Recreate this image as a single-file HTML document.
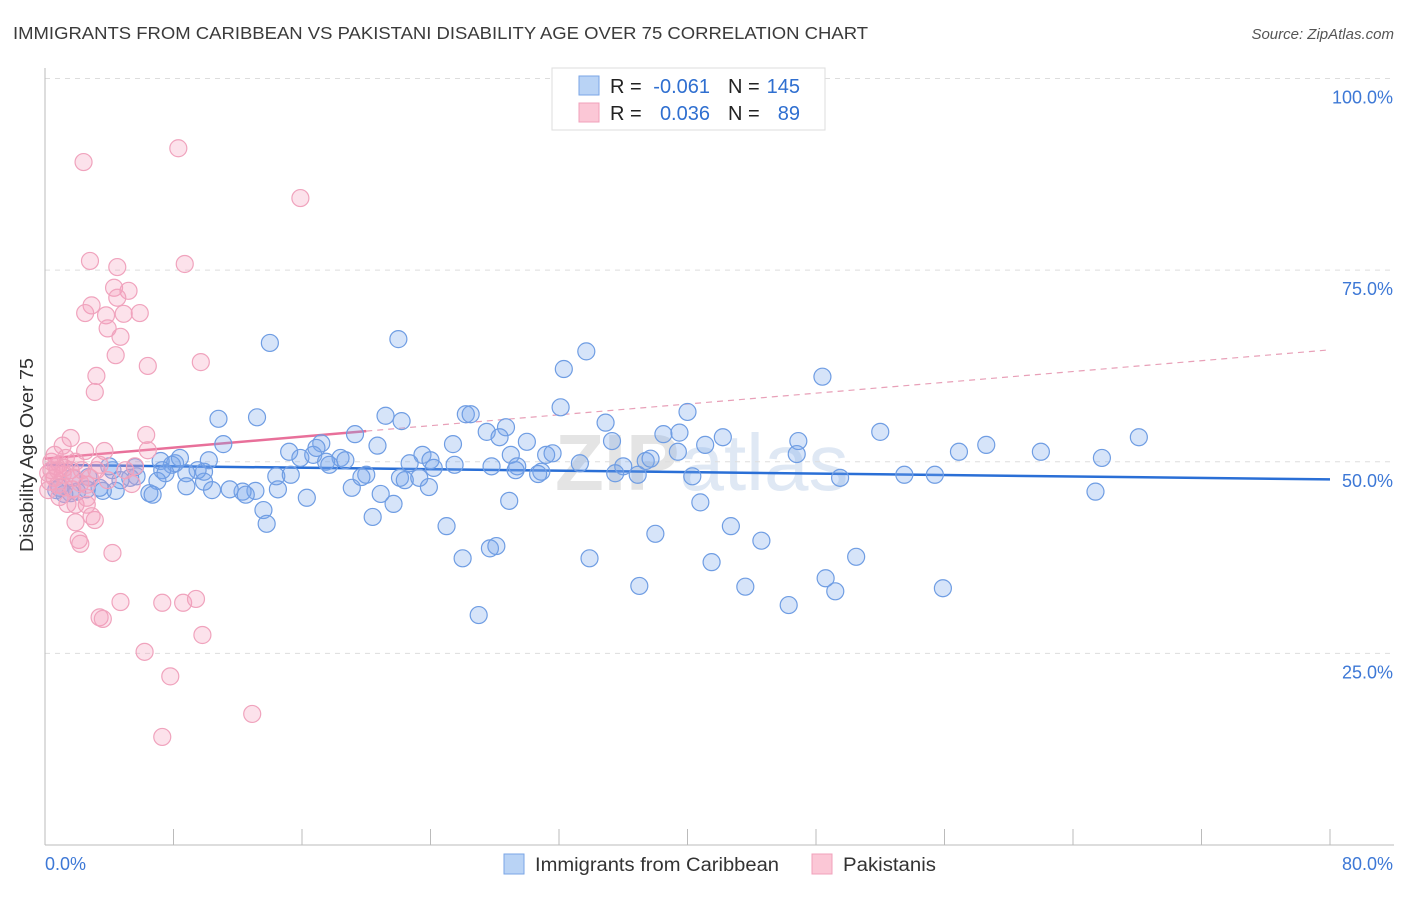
<!DOCTYPE html>
<html><head><meta charset="utf-8"><style>
body{margin:0;background:#fff;font-family:"Liberation Sans",sans-serif;}
svg text{font-family:"Liberation Sans",sans-serif;}
</style></head><body>
<svg id="chart" width="1406" height="892" xmlns="http://www.w3.org/2000/svg">
<text x="13" y="39" font-size="17.5" fill="#3a3a3a" textLength="855" lengthAdjust="spacingAndGlyphs">IMMIGRANTS FROM CARIBBEAN VS PAKISTANI DISABILITY AGE OVER 75 CORRELATION CHART</text>
<text x="1394" y="39" font-size="15" fill="#555" font-style="italic" text-anchor="end">Source: ZipAtlas.com</text>
<text x="555" y="490" font-size="80" fill="#e4e4e4" font-weight="bold">ZIP<tspan fill="#dfe8f4" font-weight="normal">atlas</tspan></text>
<g id="grid"></g>
<g id="axes"></g>
<g id="trends"></g>
<g id="points"></g>
<text transform="translate(33,455) rotate(-90)" font-size="18" fill="#333" text-anchor="middle" textLength="194" lengthAdjust="spacingAndGlyphs">Disability Age Over 75</text>
<g>
<rect x="552" y="68" width="273" height="62" fill="#fff" stroke="#ddd"/>
<rect x="579" y="76" width="20" height="19" fill="#b9d3f5" stroke="#7aa6e6"/>
<rect x="579" y="103" width="20" height="19" fill="#fbc7d6" stroke="#f0a0bb"/>
<text x="610" y="93" font-size="20" fill="#222">R =</text>
<text x="710" y="93" font-size="20" fill="#2f6fd0" text-anchor="end">-0.061</text>
<text x="728" y="93" font-size="20" fill="#222">N =</text>
<text x="800" y="93" font-size="20" fill="#2f6fd0" text-anchor="end">145</text>
<text x="610" y="120" font-size="20" fill="#222">R =</text>
<text x="710" y="120" font-size="20" fill="#2f6fd0" text-anchor="end">0.036</text>
<text x="728" y="120" font-size="20" fill="#222">N =</text>
<text x="800" y="120" font-size="20" fill="#2f6fd0" text-anchor="end">89</text>
</g>
<g>
<rect x="504" y="854" width="20" height="20" fill="#b9d3f5" stroke="#7aa6e6"/>
<text x="535" y="871" font-size="19" fill="#333" textLength="244" lengthAdjust="spacingAndGlyphs">Immigrants from Caribbean</text>
<rect x="812" y="854" width="20" height="20" fill="#fbc7d6" stroke="#f0a0bb"/>
<text x="843" y="871" font-size="19" fill="#333" textLength="93" lengthAdjust="spacingAndGlyphs">Pakistanis</text>
</g>
</svg>
<script>
const blueX=[14.0,22.0,33.7,48.4,32.3,10.8,13.2,21.2,22.2,26.2,26.5,32.1,34.9,40.0,28.7,27.5,28.3,19.3,17.2,20.7,11.1,15.2,15.9,16.7,16.9,18.4,18.7,17.5,17.7,23.5,24.0,24.2,22.7,25.5,25.4,29.0,30.0,31.2,31.6,33.3,35.3,36.0,35.5,36.9,37.4,37.7,38.5,39.5,39.4,42.2,41.1,46.9,46.8,40.3,52.0,56.9,58.6,62.0,65.8,68.1,65.4,53.5,55.4,49.5,29.4,29.3,30.9,30.7,27.8,22.1,22.4,23.3,23.9,19.1,20.9,20.0,19.7,14.5,14.4,15.3,16.3,13.1,13.6,13.8,12.3,12.5,11.5,10.4,9.9,9.9,9.5,8.8,8.8,8.1,7.9,8.4,10.2,7.2,7.3,7.5,7.0,6.5,6.7,5.7,5.6,5.3,4.7,4.2,4.4,4.0,3.6,3.4,2.7,2.6,2.0,1.7,1.6,1.2,0.7,0.9,20.4,21.7,25.0,28.9,26.0,27.7,28.1,27.0,33.9,37.0,38.0,40.8,41.5,42.7,43.6,44.6,46.3,48.6,49.2,50.5,55.9];
const blueY=[65.5,66.0,64.4,61.1,62.1,55.6,55.8,56.0,55.3,56.2,56.2,57.1,55.1,56.5,54.5,53.9,53.2,53.6,52.4,52.1,52.3,51.3,50.5,50.9,51.8,50.5,50.2,50.0,49.6,50.9,50.2,49.2,49.8,49.6,52.3,50.9,52.6,50.9,51.1,49.8,52.7,49.4,48.5,48.3,50.1,50.4,53.6,53.8,51.3,53.2,52.2,52.7,51.0,48.1,53.9,51.3,52.2,51.3,50.5,53.2,46.1,48.3,48.3,47.9,49.4,48.9,48.7,48.4,49.4,47.9,47.6,47.9,46.7,46.6,45.8,48.3,48.0,46.4,48.1,48.3,45.3,46.2,43.7,41.9,46.1,45.7,46.4,46.3,48.7,47.4,48.9,48.5,46.8,49.8,49.6,50.5,50.2,50.1,48.9,48.5,47.5,45.9,45.7,48.1,49.3,47.9,47.6,48.9,46.2,49.4,46.2,46.6,48.0,46.4,46.1,47.9,45.9,45.8,46.3,46.6,42.8,44.5,41.6,44.9,37.4,38.7,39.0,30.0,37.4,33.8,40.6,44.7,36.9,41.6,33.7,39.7,31.3,34.8,33.1,37.6,33.5];
const pinkX=[2.4,8.3,15.9,2.8,4.5,8.7,5.2,4.3,4.5,2.9,2.5,3.8,4.9,5.9,3.9,4.7,4.4,6.4,9.7,3.2,3.1,6.3,1.6,1.1,2.5,3.7,6.4,1.3,1.9,0.9,0.7,0.4,0.2,0.6,0.3,0.8,1.2,1.7,2.2,2.6,2.8,3.2,3.4,3.9,5.0,5.4,5.6,0.9,1.4,1.9,2.6,3.1,2.9,1.9,2.1,2.2,4.2,4.7,3.4,3.6,7.3,8.6,9.4,9.8,6.2,7.8,7.3,12.9,0.4,0.6,0.2,1.1,1.6,2.3,2.6,1.2,0.8,1.8];
const pinkY=[89.1,90.9,84.4,76.2,75.4,75.8,72.3,72.7,71.4,70.4,69.4,69.1,69.3,69.4,67.4,66.3,63.9,62.5,63.0,61.2,59.1,53.5,53.1,52.1,51.4,51.4,51.5,50.5,50.0,49.7,49.4,48.9,48.5,47.9,47.4,47.0,46.7,46.4,47.2,47.0,47.9,48.9,49.6,47.6,48.9,47.1,49.4,45.4,44.5,44.4,44.4,42.4,42.9,42.1,39.8,39.3,38.1,31.7,29.7,29.5,31.6,31.6,32.1,27.4,25.2,22.0,14.1,17.1,50.0,50.9,46.3,48.3,48.9,48.9,45.3,49.2,48.9,47.9];
const blueTrendX=[0,80], blueTrendY=[49.6,47.7];
const pinkSolidX=[0,20], pinkSolidY=[50.4,54.0];
const pinkDashX=[20,80], pinkDashY=[54.0,64.6];
const yTicks=[25,50,75,100];
const yTickLabels=["25.0%","50.0%","75.0%","100.0%"];
const xTicks=[0,8,16,24,32,40,48,56,64,72,80];
const xEndLabels=["0.0%","80.0%"];

const X0=45,X1=1330,Y0=845,Y100=78.5;
const sx=v=>X0+(X1-X0)*v/80;
const sy=v=>Y0-(Y0-Y100)*v/100;
const NS="http://www.w3.org/2000/svg";
function mk(tag,attrs,parent){const e=document.createElementNS(NS,tag);for(const k in attrs)e.setAttribute(k,attrs[k]);parent.appendChild(e);return e;}
const grid=document.getElementById('grid'),axes=document.getElementById('axes'),trends=document.getElementById('trends'),pts=document.getElementById('points');
yTicks.forEach((t,i)=>{
 const l=mk('line',{x1:X0,x2:1394,y1:sy(t),y2:sy(t),stroke:'#ddd','stroke-dasharray':'5,5'},grid);
 
 
 const tx=mk('text',{x:1393,y:sy(t)+25,'font-size':18,fill:'#3d78d6','text-anchor':'end'},axes);
 tx.textContent=yTickLabels[i];
 
 
});
let a=mk('line',{x1:X0,x2:X0,y1:68,y2:Y0,stroke:'#bbb'},axes);


a=mk('line',{x1:X0,x2:1394,y1:Y0,y2:Y0,stroke:'#bbb'},axes);


xTicks.forEach(t=>{
 const l=mk('line',{x1:sx(t),x2:sx(t),y1:Y0,y2:Y0-16,stroke:'#bbb'},axes);
 
 
});
[[0,'start',xEndLabels[0]],[80,'end',xEndLabels[1]]].forEach(([v,anc,s])=>{
 const x=anc==='start'?sx(v):1393;
 const t=mk('text',{x:x,y:870,'font-size':18,fill:'#3d78d6','text-anchor':anc},axes);
 t.textContent=s;
 
 
});
blueX.forEach((x,i)=>{
 const c=mk('circle',{cx:sx(x),cy:sy(blueY[i]),r:8.5,fill:'rgba(120,165,235,0.3)',stroke:'#6f9de3','stroke-width':1.2},pts);
 
 
});
pinkX.forEach((x,i)=>{
 const c=mk('circle',{cx:sx(x),cy:sy(pinkY[i]),r:8.5,fill:'rgba(245,160,190,0.3)',stroke:'#f0a3bd','stroke-width':1.2},pts);
 
 
});
let t1=mk('line',{x1:sx(blueTrendX[0]),y1:sy(blueTrendY[0]),x2:sx(blueTrendX[1]),y2:sy(blueTrendY[1]),stroke:'#2a6fd6','stroke-width':2.5},trends);


let t2=mk('line',{x1:sx(pinkDashX[0]),y1:sy(pinkDashY[0]),x2:sx(pinkDashX[1]),y2:sy(pinkDashY[1]),stroke:'#e8a0b8','stroke-width':1.2,'stroke-dasharray':'6,5'},trends);


let t3=mk('line',{x1:sx(pinkSolidX[0]),y1:sy(pinkSolidY[0]),x2:sx(pinkSolidX[1]),y2:sy(pinkSolidY[1]),stroke:'#e8709a','stroke-width':2.5},trends);


</script>
</body></html>
